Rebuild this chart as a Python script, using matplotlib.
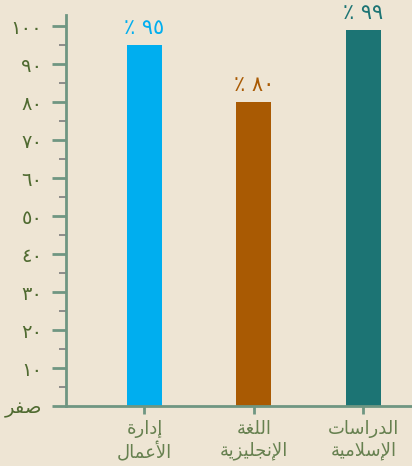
import matplotlib
matplotlib.use("Agg")
import matplotlib.pyplot as plt
import numpy as np

# data
categories = ["إدارة\nالأعمال", "اللغة\nالإنجليزية", "الدراسات\nالإسلامية"]
values = [95, 80, 99]
bar_colors = ["#00aeef", "#a95a03", "#1c7474"]
y_ticks = [0, 10, 20, 30, 40, 50, 60, 70, 80, 90, 100]
y_labels = ["صفر", "١٠", "٢٠", "٣٠", "٤٠", "٥٠", "٦٠", "٧٠", "٨٠", "٩٠", "١٠٠"]
value_labels = ["٪ ٩٥", "٪ ٨٠", "٪ ٩٩"]

# matplotlib does not shape arabic, so map letters to presentation forms
# (isolated, final, initial, medial); None = letter does not join forward
FORMS = {
    "ا": ("\uFE8D", "\uFE8E", None, None),
    "أ": ("\uFE83", "\uFE84", None, None),
    "إ": ("\uFE87", "\uFE88", None, None),
    "د": ("\uFEA9", "\uFEAA", None, None),
    "ر": ("\uFEAD", "\uFEAE", None, None),
    "ز": ("\uFEAF", "\uFEB0", None, None),
    "ة": ("\uFE93", "\uFE94", None, None),
    "ل": ("\uFEDD", "\uFEDE", "\uFEDF", "\uFEE0"),
    "ع": ("\uFEC9", "\uFECA", "\uFECB", "\uFECC"),
    "م": ("\uFEE1", "\uFEE2", "\uFEE3", "\uFEE4"),
    "غ": ("\uFECD", "\uFECE", "\uFECF", "\uFED0"),
    "ن": ("\uFEE5", "\uFEE6", "\uFEE7", "\uFEE8"),
    "ج": ("\uFE9D", "\uFE9E", "\uFE9F", "\uFEA0"),
    "ي": ("\uFEF1", "\uFEF2", "\uFEF3", "\uFEF4"),
    "س": ("\uFEB1", "\uFEB2", "\uFEB3", "\uFEB4"),
    "ت": ("\uFE95", "\uFE96", "\uFE97", "\uFE98"),
    "ص": ("\uFEB9", "\uFEBA", "\uFEBB", "\uFEBC"),
    "ف": ("\uFED1", "\uFED2", "\uFED3", "\uFED4"),
    # lam-alef ligatures
    "\u0001": ("\uFEF7", "\uFEF8", None, None),
    "\u0002": ("\uFEF9", "\uFEFA", None, None),
    "\u0003": ("\uFEFB", "\uFEFC", None, None),
}


def shape_line(s):
    s = s.replace("لأ", "\u0001").replace("لإ", "\u0002").replace("لا", "\u0003")
    if not any(ch in FORMS for ch in s):
        return s  # digits only, keep left to right
    out = []
    for i, ch in enumerate(s):
        if ch not in FORMS:
            out.append(ch)
            continue
        f = FORMS[ch]
        prev = s[i - 1] if i > 0 else None
        nxt = s[i + 1] if i + 1 < len(s) else None
        join_prev = prev in FORMS and FORMS[prev][2] is not None
        join_next = f[2] is not None and nxt in FORMS
        if join_prev and join_next:
            out.append(f[3])
        elif join_prev:
            out.append(f[1])
        elif join_next:
            out.append(f[2])
        else:
            out.append(f[0])
    return "".join(out)[::-1]


def shape(s):
    return "\n".join(shape_line(line) for line in s.split("\n"))


plt.rcParams["font.family"] = ["DejaVu Sans"]

bg = "#eee5d4"
axis_col = "#6f9682"

fig = plt.figure(figsize=(4.12, 4.66), dpi=100, facecolor=bg)
ax = fig.add_axes([0.160, 0.1288, 0.840, 0.839], facecolor=bg)

x = np.arange(len(categories))
ax.bar(x, values, width=0.32, color=bar_colors, zorder=2)

for xi, v, lab, c in zip(x, values, value_labels, bar_colors):
    ax.annotate(lab, (xi, v), xytext=(0, 5), textcoords="offset points",
                ha="center", va="bottom", color=c, fontsize=15)

ax.set_xlim(-0.717, 2.443)
ax.set_ylim(0, 103)

ax.set_yticks(y_ticks)
ax.set_yticklabels([shape(t) for t in y_labels], color="#4f6a30", fontsize=14)
ax.set_yticks(np.arange(5, 100, 10), minor=True)
ax.tick_params(axis="y", which="major", length=10, width=2, color=axis_col, pad=7)
ax.tick_params(axis="y", which="minor", length=5, width=1.2, color="#7d7d7d")

ax.set_xticks(x)
ax.set_xticklabels([shape(c) for c in categories], color="#66804f", fontsize=13,
                   linespacing=1.25)
ax.tick_params(axis="x", length=6, width=2, color=axis_col, pad=4)

for side in ["top", "right"]:
    ax.spines[side].set_visible(False)
for side in ["left", "bottom"]:
    ax.spines[side].set_color(axis_col)
    ax.spines[side].set_linewidth(2)

fig.savefig("out.png", dpi=100, facecolor=bg)
